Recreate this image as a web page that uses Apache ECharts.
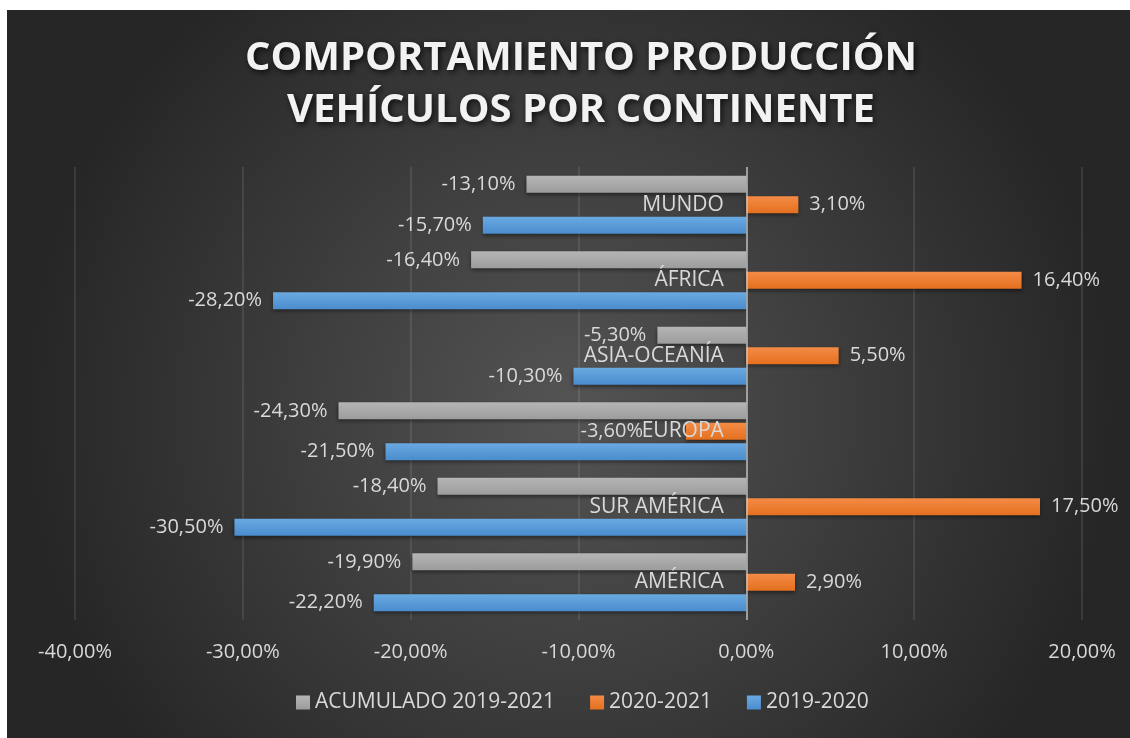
<!DOCTYPE html>
<html><head><meta charset="utf-8">
<script src="https://cdn.jsdelivr.net/npm/echarts@6/dist/echarts.min.js"></script>
<style>html,body{margin:0;padding:0;background:#fff;}#c{width:1130px;height:738px;}</style>
</head><body><div id="c"></div>
<script>
const categories = ['AMÉRICA', 'SUR AMÉRICA', 'EUROPA', 'ASIA-OCEANÍA', 'ÁFRICA', 'MUNDO'];
const acumulado = [-19.9, -18.4, -24.3, -5.3, -16.4, -13.1];
const s2020_2021 = [2.9, 17.5, -3.6, 5.5, 16.4, 3.1];
const s2019_2020 = [-22.2, -30.5, -21.5, -10.3, -28.2, -15.7];
const seriesNames = ['ACUMULADO 2019-2021', '2020-2021', '2019-2020'];
const xTicks = { min: -40, max: 20, interval: 10 };

const fmt = v => v.toFixed(2).replace('.', ',') + '%';
const FONT = "'Open Sans', sans-serif";
const TXT = '#d9d9d9';

function grad(top, bottom) {
  return { type: 'linear', x: 0, y: 0, x2: 0, y2: 1,
    colorStops: [{ offset: 0, color: top }, { offset: 1, color: bottom }] };
}
function mk(name, vals, top, bottom, negDist) {
  return {
    name, type: 'bar', barWidth: 17, barGap: '20%', z: 2,
    data: vals.map(v => ({ value: v, label: { position: v < 0 ? 'left' : 'right', distance: v < 0 ? negDist : 11 } })),
    itemStyle: { color: grad(top, bottom), shadowBlur: 4, shadowOffsetY: 2, shadowColor: 'rgba(0,0,0,0.45)' },
    label: { show: true, distance: 11, color: TXT, fontSize: 20, fontFamily: FONT, formatter: p => fmt(p.value) }
  };
}

const chart = echarts.init(document.getElementById('c'));
chart.setOption({
  animation: false,
  graphic: [{
    type: 'rect', z: -10, silent: true,
    shape: { x: 7, y: 10, width: 1123, height: 728 },
    style: { fill: { type: 'radial', x: 0.5, y: 0.55, r: 0.75,
      colorStops: [{ offset: 0, color: '#545454' }, { offset: 1, color: '#262626' }] } }
  }],
  title: {
    text: 'COMPORTAMIENTO PRODUCCIÓN\nVEHÍCULOS POR CONTINENTE',
    left: 576, textAlign: 'center', top: 28,
    textStyle: { color: '#f2f2f2', fontSize: 40, fontWeight: 'bold', fontFamily: FONT, lineHeight: 52, align: 'center',
      textShadowColor: 'rgba(0,0,0,0.8)', textShadowBlur: 6, textShadowOffsetX: 2, textShadowOffsetY: 2 }
  },
  legend: {
    bottom: 20, left: 291, itemWidth: 14, itemHeight: 14, itemGap: 35,
    icon: 'rect',
    textStyle: { color: TXT, fontSize: 21, fontFamily: FONT },
    data: seriesNames
  },
  grid: { left: 75, right: 48, top: 167, bottom: 118, containLabel: false, outerBoundsMode: 'none' },
  xAxis: {
    type: 'value', min: xTicks.min, max: xTicks.max, interval: xTicks.interval,
    axisLine: { show: false }, axisTick: { show: false },
    splitLine: { lineStyle: { color: 'rgba(255,255,255,0.13)', width: 1.5 } },
    axisLabel: { color: TXT, fontSize: 20, fontFamily: FONT, margin: 22, formatter: v => fmt(v) }
  },
  yAxis: {
    type: 'category', data: categories,
    axisTick: { show: false }, axisLine: { show: false }, axisLabel: { show: false }
  },
  color: ['#a5a5a5', '#ed7d31', '#5b9bd5'],
  series: [
    mk(seriesNames[0], acumulado, '#b5b5b5', '#9c9c9c', 11),
    mk(seriesNames[1], s2020_2021, '#f48b45', '#e4701f', 43),
    mk(seriesNames[2], s2019_2020, '#6aaae2', '#4a8ccd', 11),
    {
      type: 'scatter', z: 5, silent: true, symbolSize: 1,
      itemStyle: { color: 'rgba(0,0,0,0)', opacity: 1 },
      data: categories.map(c => [0, c]),
      label: { show: true, position: 'left', distance: 22, color: TXT, fontSize: 21, fontFamily: FONT,
        formatter: p => p.value[1] },
      markLine: {
        silent: true, symbol: 'none', label: { show: false },
        lineStyle: { type: 'solid', color: 'rgba(210,210,210,0.6)', width: 2 },
        data: [{ xAxis: 0 }]
      }
    }
  ]
});
</script></body></html>
